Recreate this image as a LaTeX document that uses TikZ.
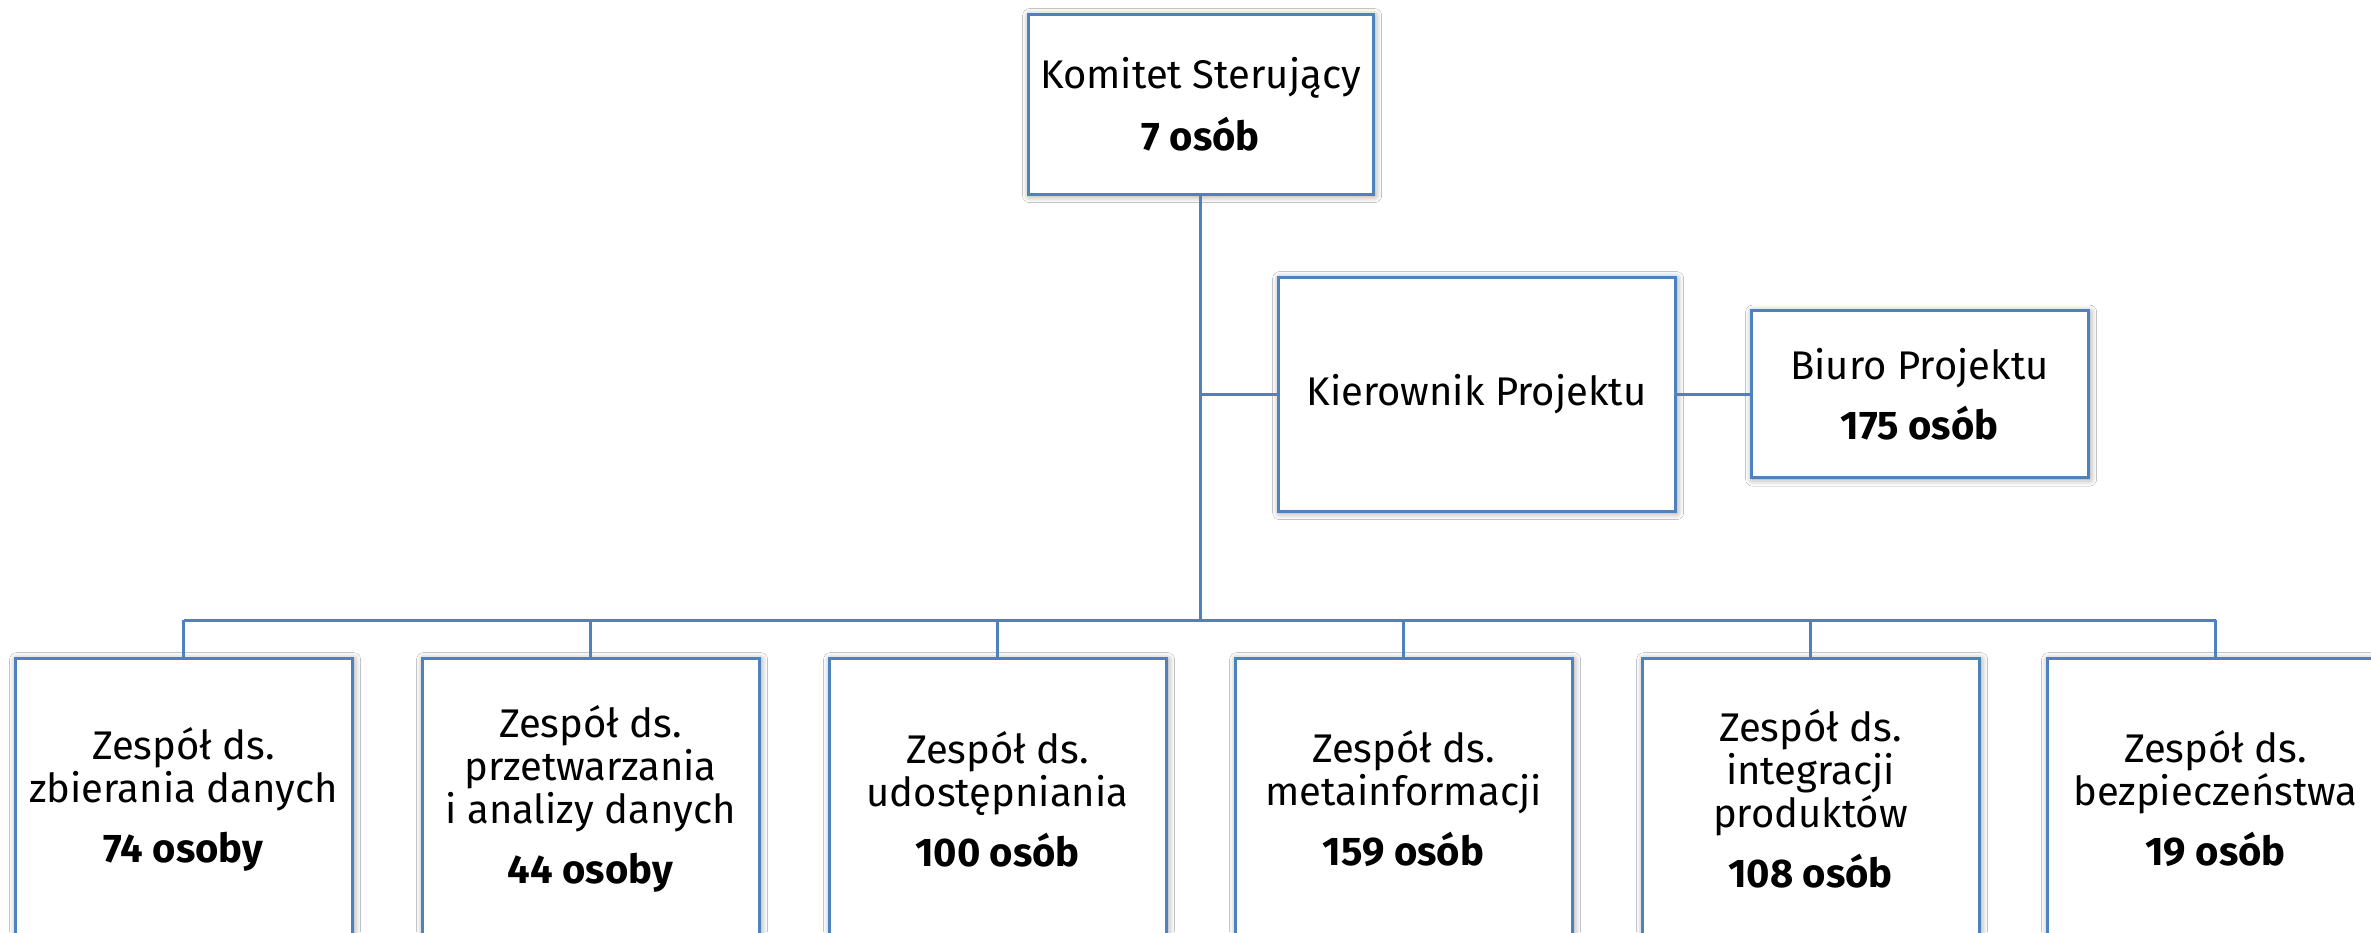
\documentclass[tikz,border=0pt]{standalone}
\usepackage{fontspec}
\setmainfont{Fira Sans}
\usetikzlibrary{shadows.blur}
\definecolor{boxblue}{RGB}{79,129,189}

\begin{document}
\begin{tikzpicture}[x=0.5pt,y=-0.5pt]

      \tikzstyle{box}=[draw=boxblue,line width=1.5pt,fill=white,
                            align=center,inner sep=0pt,
                            font=\fontsize{20}{21.5}\selectfont,
                            blur shadow={shadow xshift=0.8pt,shadow yshift=-0.8pt,
                              shadow blur radius=3.5pt,shadow opacity=45}]
      \tikzstyle{team}=[box,minimum width=168.5pt,minimum height=141pt]
      \tikzstyle{link}=[draw=boxblue,line width=1.5pt]

      %\tikzstyle{every label}=[distance=5mm]

      \fill[white] (0,0) rectangle (2371,932);
      \useasboundingbox (0,0) rectangle (2371,932);

      \node (ks) at (1200.5,104) [box,minimum width=172.5pt,minimum height=90pt]
          {Komitet Sterujący\\[8.5pt]\textbf{7 osób}};
      \node (kp) at (1476.5,394) [box,minimum width=198.5pt,minimum height=117pt]
          {Kierownik Projektu};
      \node (bp) at (1919.5,394) [box,minimum width=168.5pt,minimum height=83.5pt]
          {Biuro Projektu\\[8.5pt]\textbf{175 osób}};

      \node (t1) at (183.5,799) [team]
          {Zespół ds.\\zbierania danych\\[8.5pt]\textbf{74 osoby}};
      \node (t2) at (590.5,799) [team]
          {Zespół ds.\\przetwarzania\\i analizy danych\\[8.5pt]\textbf{44 osoby}};
      \node (t3) at (997.5,799) [team]
          {Zespół ds.\\udostępniania\\[8.5pt]\textbf{100 osób}};
      \node (t4) at (1403.5,799) [team]
          {Zespół ds.\\metainformacji\\[8.5pt]\textbf{159 osób}};
      \node (t5) at (1810.5,799) [team]
          {Zespół ds.\\integracji\\produktów\\[8.5pt]\textbf{108 osób}};
      \node (t6) at (2215.5,799) [team]
          {Zespół ds.\\bezpieczeństwa\\[8.5pt]\textbf{19 osób}};

      \coordinate (bus) at (ks.south |- 0,620);

      \draw[link] (ks.south) -- (bus);
      \draw[link] (kp.west) -- (kp.west -| ks.south);
      \draw[link] (kp) -- (bp);
      \draw[link] (t1.north |- bus) -- (t6.north |- bus);

      \draw[link,line width=1.1pt] (t1.north) -- (t1.north |- bus);
      \draw[link,line width=1.1pt] (t2.north) -- (t2.north |- bus);
      \draw[link,line width=1.1pt] (t3.north) -- (t3.north |- bus);
      \draw[link,line width=1.1pt] (t4.north) -- (t4.north |- bus);
      \draw[link,line width=1.1pt] (t5.north) -- (t5.north |- bus);
      \draw[link,line width=1.1pt] (t6.north) -- (t6.north |- bus);

\end{tikzpicture}
\end{document}
